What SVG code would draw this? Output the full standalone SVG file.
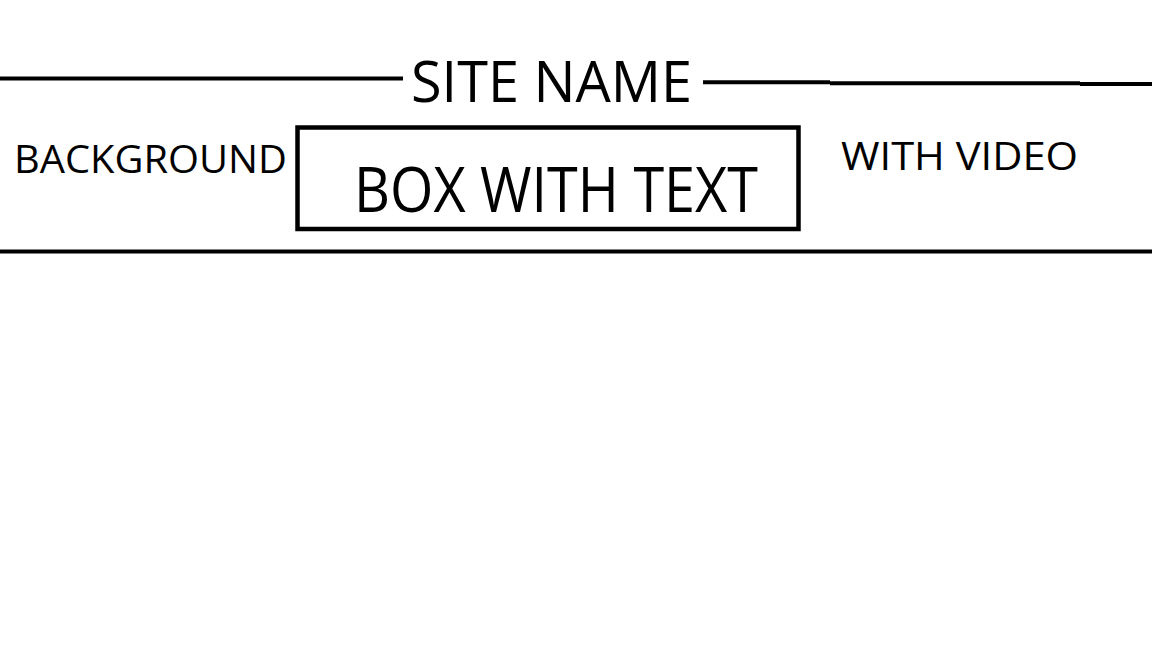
<svg xmlns="http://www.w3.org/2000/svg" width="1152" height="648" viewBox="0 0 1152 648">
<style>
.t{font-family:"Open Sans","Liberation Sans",sans-serif;fill:#000}
.ln{stroke:#000;stroke-width:4;fill:none}
</style>
<rect x="0" y="0" width="1152" height="648" fill="#fff"/>
<g id="connectors">
<line class="ln" x1="0" y1="78.5" x2="403" y2="78.5"/>
<line class="ln" x1="703" y1="82.3" x2="830" y2="82.3"/>
<line class="ln" x1="830" y1="83.2" x2="1080" y2="83.2"/>
<line class="ln" x1="1080" y1="84" x2="1152" y2="84"/>
<line class="ln" x1="0" y1="251.5" x2="1152" y2="251.5"/>
</g>
<g id="site-name">
<text class="t" x="411" y="102" font-size="56" textLength="281" lengthAdjust="spacingAndGlyphs">SITE NAME</text>
</g>
<g id="background">
<text class="t" x="14" y="173" font-size="39" textLength="273" lengthAdjust="spacingAndGlyphs">BACKGROUND</text>
</g>
<g id="box-with-text">
<rect x="297.5" y="127.5" width="501" height="101.5" fill="none" stroke="#000" stroke-width="4.5"/>
<text class="t" x="354" y="212" font-size="62" textLength="404" lengthAdjust="spacingAndGlyphs">BOX WITH TEXT</text>
</g>
<g id="with-video">
<text class="t" x="841" y="170" font-size="39" textLength="237" lengthAdjust="spacingAndGlyphs">WITH VIDEO</text>
</g>
</svg>
